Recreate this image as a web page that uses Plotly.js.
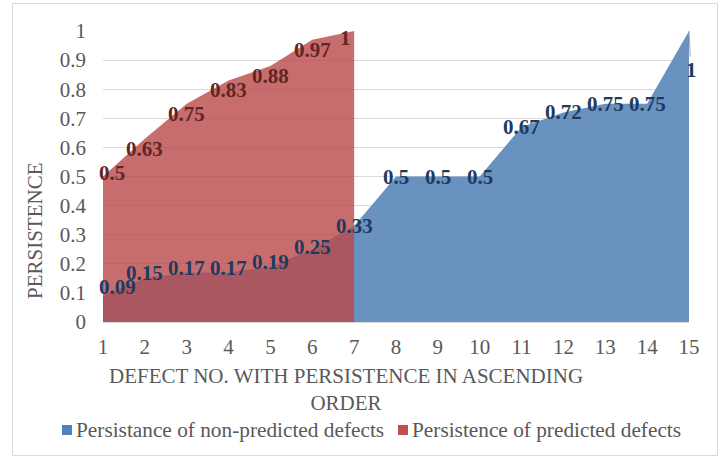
<!DOCTYPE html>
<html>
<head>
<meta charset="utf-8">
<script src="https://cdn.plot.ly/plotly-3.0.1.min.js"></script>
<style>
html,body{margin:0;padding:0;background:#fff;}
#chart{width:719px;height:459px;}
</style>
</head>
<body>
<div id="chart"></div>
<script>
// ---- data ----
const defectNo = [1,2,3,4,5,6,7,8,9,10,11,12,13,14,15];
const nonPredicted = [0.09,0.15,0.17,0.17,0.19,0.25,0.33,0.5,0.5,0.5,0.67,0.72,0.75,0.75,1];
const predictedNo = [1,2,3,4,5,6,7];
const predicted = [0.5,0.63,0.75,0.83,0.88,0.97,1];
const yTicks = [0,0.1,0.2,0.3,0.4,0.5,0.6,0.7,0.8,0.9,1];
const yTickText = ['0','0.1','0.2','0.3','0.4','0.5','0.6','0.7','0.8','0.9','1'];
const seriesNames = ['Persistance of non-predicted defects','Persistence of predicted defects'];
const xTitle = 'DEFECT NO. WITH PERSISTENCE IN ASCENDING<br>ORDER';
const yTitle = 'PERSISTENCE';

const FONT = 'Liberation Serif, Times New Roman, serif';
const blueFill = 'rgb(106,146,192)';
const redFill = 'rgba(186,72,72,0.8)';
const blueLabel = '#1f3a5f';
const redLabel = '#632523';

const traces = [
  {x: defectNo, y: nonPredicted, type:'scatter', mode:'lines', fill:'tozeroy',
   line:{width:0, color:blueFill}, fillcolor: blueFill, name: seriesNames[0], showlegend:false, hoverinfo:'x+y'},
  {x: predictedNo, y: predicted, type:'scatter', mode:'lines', fill:'tozeroy',
   line:{width:0, color:redFill}, fillcolor: redFill, name: seriesNames[1], showlegend:false, hoverinfo:'x+y'}
];

// data labels built from the arrays
function labels(xs, ys, color, isRed){
  return xs.map((xv,i)=>{
    const n = xs.length;
    const a = {x:xv, y:ys[i], xref:'x', yref:'y', text:String(ys[i]), showarrow:false,
      xanchor:'center', yanchor:'middle', font:{family:FONT, size:21, color:color, weight:'bold'}};
    if(i===0){ a.xanchor='left'; a.xshift=-6; a.yshift = isRed ? 4 : 9; }
    else if(isRed){ a.yshift = (i===n-1) ? -7 : -10; if(i===n-1) a.xshift=-9; }
    else if(i<5){ a.yshift = 5; }
    else if(i===5){ a.yshift = 2; }
    if(!isRed && i===n-1){
      a.showarrow=true; a.arrowhead=0; a.arrowwidth=1; a.arrowcolor='#a6a6a6';
      a.ax=2; a.ay=39; a.standoff=0;
    }
    return a;
  });
}

// paper coordinate helpers (plot area 103..689 x, 31..322 y)
const L=103, R=689, T=31, B=322;
const px = v => (v-L)/(R-L);
const py = v => (B-v)/(B-T);

const annotations = [
  ...labels(defectNo, nonPredicted, blueLabel, false),
  ...labels(predictedNo, predicted, redLabel, true),
  {xref:'paper', yref:'paper', x:px(346), y:py(389), xanchor:'center', yanchor:'middle', text:xTitle, showarrow:false,
   font:{family:FONT, size:21, color:'#595959'}},
  {xref:'paper', yref:'paper', x:px(35), y:py(231), xanchor:'center', yanchor:'middle', text:yTitle, textangle:-90, showarrow:false,
   font:{family:FONT, size:21, color:'#595959'}},
  {xref:'paper', yref:'paper', x:px(74), y:py(430), xanchor:'left', yanchor:'middle', text:seriesNames[0], showarrow:false,
   font:{family:FONT, size:21.3, color:'#595959'}},
  {xref:'paper', yref:'paper', x:px(410), y:py(430), xanchor:'left', yanchor:'middle', text:seriesNames[1], showarrow:false,
   font:{family:FONT, size:21.3, color:'#595959'}}
];

const layout = {
  width:719, height:459,
  margin:{l:L, r:719-R, t:T, b:459-B, pad:0},
  paper_bgcolor:'#fff', plot_bgcolor:'#fff',
  showlegend:false,
  font:{family:FONT, color:'#595959', size:21},
  xaxis:{range:[1,15], tickvals:defectNo, ticktext:defectNo.map(String), showgrid:false, zeroline:false,
         showline:false, ticks:'', ticklabelstandoff:10, tickfont:{family:FONT, size:21, color:'#595959'}, fixedrange:true},
  yaxis:{range:[0,1], tickvals:yTicks, ticktext:yTickText, showgrid:true, gridcolor:'#d9d9d9', gridwidth:1,
         zeroline:true, zerolinecolor:'#d9d9d9', zerolinewidth:1, showline:false, ticks:'', ticklabelstandoff:16,
         tickfont:{family:FONT, size:21, color:'#595959'}, fixedrange:true},
  annotations: annotations,
  shapes:[
    {type:'rect', xref:'paper', yref:'paper', x0:px(62), x1:px(72), y0:py(435), y1:py(425), fillcolor:'#4f81bd', line:{width:0}},
    {type:'rect', xref:'paper', yref:'paper', x0:px(398), x1:px(408), y0:py(435), y1:py(425), fillcolor:'#c0504d', line:{width:0}},
    {type:'rect', xref:'paper', yref:'paper', x0:px(12.5), x1:px(717.5), y0:py(455.5), y1:py(3.5), line:{color:'#d9d9d9', width:1}, fillcolor:'rgba(0,0,0,0)', layer:'below'}
  ]
};

Plotly.newPlot('chart', traces, layout, {displayModeBar:false, staticPlot:true});
</script>
</body>
</html>
